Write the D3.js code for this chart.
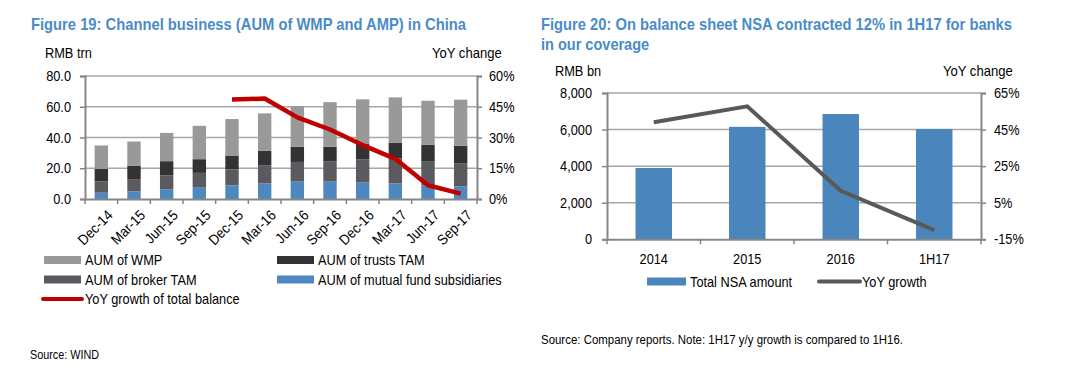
<!DOCTYPE html>
<html>
<head>
<meta charset="utf-8">
<script src="https://cdn.jsdelivr.net/npm/d3@7"></script>
<style>
  body { margin: 0; background: #fff; }
  svg text { font-family: "Liberation Sans", Arial, sans-serif; fill: #000; }
  .title { font-weight: bold; fill: #4a8cc7; font-size: 16.5px; }
</style>
</head>
<body>
<svg id="chart" width="1081" height="374"></svg>
<script>
// Figure 19 data (RMB trn, stacked pieces) and YoY growth (%)
const quarters = ['Dec-14','Mar-15','Jun-15','Sep-15','Dec-15','Mar-16','Jun-16','Sep-16','Dec-16','Mar-17','Jun-17','Sep-17'];
const mutualFund = [4.1, 5.0, 6.3, 7.4, 8.9, 10.2, 11.3, 11.3, 10.7, 10.2, 8.9, 8.3];
const brokerTam  = [7.4, 7.6, 9.1, 9.6, 10.4, 11.8, 12.8, 13.3, 15.2, 16.3, 15.4, 15.0];
const trustsTam  = [8.1, 8.9, 9.2, 8.9, 9.0, 9.3, 9.8, 9.3, 9.8, 10.2, 10.9, 11.3];
const wmp        = [15.2, 15.9, 18.4, 21.7, 23.7, 24.4, 26.5, 29.1, 29.1, 29.4, 28.7, 30.0];
const yoyTotal   = [null, null, null, null, 48.5, 49.0, 39.8, 33.9, 26.3, 19.6, 6.7, 2.6];
const leftTicks  = [0, 20, 40, 60, 80];
const rightTicks = [0, 15, 30, 45, 60];

// Figure 20 data (RMB bn) and YoY growth (%)
const periods = ['2014','2015','2016','1H17'];
const nsaAmount = [3900, 6150, 6850, 6030];
const nsaYoy = [49.0, 57.7, 11.5, -10.0];
const nsaTicks = [0, 2000, 4000, 6000, 8000];
const nsaYoyTicks = [-15, 5, 25, 45, 65];

const gridColor = '#a6a6a6', axisColor = '#868686';
const svg = d3.select('#chart');

// text in the reference is a bit condensed
function squeeze(sel, f) {
  sel.each(function() {
    const w = this.getComputedTextLength();
    d3.select(this).attr('textLength', w * f).attr('lengthAdjust', 'spacingAndGlyphs');
  });
}

function txt(x, y, s, size, anchor) {
  return svg.append('text').attr('x', x).attr('y', y)
    .attr('font-size', size).attr('text-anchor', anchor || 'start').text(s);
}

// ---------- Figure 19 ----------
const m1 = { left: 85, right: 477, top: 76, bottom: 199 };
const x1 = d3.scaleBand().domain(quarters).range([m1.left, m1.right]).paddingInner(0.59).paddingOuter(0.295);
const xb1 = d3.scaleBand().domain(quarters).range([m1.left, m1.right]);
const y1 = d3.scaleLinear().domain([0, 80]).range([m1.bottom, m1.top]);
const y1r = d3.scaleLinear().domain([0, 60]).range([m1.bottom, m1.top]);

svg.append('g').selectAll('line').data(leftTicks.slice(1)).enter().append('line')
  .attr('x1', m1.left).attr('x2', m1.right)
  .attr('y1', d => y1(d)).attr('y2', d => y1(d))
  .attr('stroke', gridColor).attr('stroke-width', 1.5);

const rows = quarters.map((q, i) => ({ q, mf: mutualFund[i], broker: brokerTam[i], trusts: trustsTam[i], wmp: wmp[i] }));
const keys = ['mf', 'broker', 'trusts', 'wmp'];
const colors = { mf: '#4f88c0', broker: '#5b5b5f', trusts: '#333333', wmp: '#999999' };
const stacked = d3.stack().keys(keys)(rows);

svg.append('g').selectAll('g').data(stacked).enter().append('g')
  .attr('fill', d => colors[d.key])
  .selectAll('rect').data(d => d).enter().append('rect')
    .attr('x', d => x1(d.data.q))
    .attr('width', x1.bandwidth())
    .attr('y', d => y1(d[1]))
    .attr('height', d => y1(d[0]) - y1(d[1]));

// axes
const ax1 = svg.append('g').attr('transform', 'translate(' + m1.left + ',0)')
  .call(d3.axisLeft(y1).tickValues(leftTicks).tickFormat(d3.format('.1f')).tickSize(5).tickPadding(9));
const ax1r = svg.append('g').attr('transform', 'translate(' + m1.right + ',0)')
  .call(d3.axisRight(y1r).tickValues(rightTicks).tickFormat(d => d + '%').tickSize(5).tickPadding(7));
const ax1b = svg.append('g').attr('transform', 'translate(0,' + m1.bottom + ')')
  .call(d3.axisBottom(xb1).tickSize(0).tickFormat(''));
svg.append('g').selectAll('line').data(d3.range(quarters.length + 1)).enter().append('line')
  .attr('x1', i => m1.left + i * xb1.step()).attr('x2', i => m1.left + i * xb1.step())
  .attr('y1', m1.bottom).attr('y2', m1.bottom + 5)
  .attr('stroke', axisColor).attr('stroke-width', 1.5);

[ax1, ax1r, ax1b].forEach(a => {
  a.select('.domain').attr('stroke', axisColor).attr('stroke-width', 2);
  a.selectAll('.tick line').attr('stroke', axisColor).attr('stroke-width', 1.5);
  a.selectAll('text').attr('font-size', 14.5).attr('fill', '#000')
    .attr('font-family', '"Liberation Sans", Arial, sans-serif').call(squeeze, 0.88);
});

svg.append('g').selectAll('text').data(quarters).enter().append('text')
  .attr('transform', d => 'translate(' + (xb1(d) + xb1.bandwidth() / 2 + 5) + ',' + (m1.bottom + 10) + ') rotate(-45)')
  .attr('text-anchor', 'end').attr('dy', '0.7em').attr('font-size', 14.5)
  .text(d => d).call(squeeze, 0.9);

// YoY line
const yoyPts = quarters.map((q, i) => ({ q, v: yoyTotal[i] })).filter(d => d.v !== null);
svg.append('path').datum(yoyPts)
  .attr('fill', 'none').attr('stroke', '#c00000').attr('stroke-width', 4.5)
  .attr('stroke-linejoin', 'round')
  .attr('d', d3.line().x(d => xb1(d.q) + xb1.bandwidth() / 2).y(d => y1r(d.v)));

txt(31, 30, 'Figure 19: Channel business (AUM of WMP and AMP) in China', 16.5).attr('class', 'title')
  .attr('textLength', 435).attr('lengthAdjust', 'spacingAndGlyphs');
txt(45, 58, 'RMB trn', 14.5).call(squeeze, 0.88);
txt(432, 58, 'YoY change', 14.5).call(squeeze, 0.9);

// legend 19
const leg1 = [
  { label: 'AUM of WMP', color: colors.wmp, x: 44, y: 260 },
  { label: 'AUM of trusts TAM', color: colors.trusts, x: 277, y: 260 },
  { label: 'AUM of broker TAM', color: colors.broker, x: 44, y: 279.5 },
  { label: 'AUM of mutual fund subsidiaries', color: colors.mf, x: 277, y: 279.5 }
];
leg1.forEach(d => {
  svg.append('rect').attr('x', d.x).attr('y', d.y - 4).attr('width', 37).attr('height', 8).attr('fill', d.color);
  txt(d.x + 41, d.y + 5, d.label, 14.5).call(squeeze, 0.88);
});
svg.append('line').attr('x1', 43).attr('x2', 82).attr('y1', 299).attr('y2', 299)
  .attr('stroke', '#c00000').attr('stroke-width', 4).attr('stroke-linecap', 'round');
txt(85, 304, 'YoY growth of total balance', 14.5).call(squeeze, 0.88);
txt(30, 359, 'Source: WIND', 12.5).attr('textLength', 69).attr('lengthAdjust', 'spacingAndGlyphs');

// ---------- Figure 20 ----------
const m2 = { left: 607, right: 981, top: 93, bottom: 239.3 };
const x2 = d3.scaleBand().domain(periods).range([m2.left, m2.right]).paddingInner(0.61).paddingOuter(0.305);
const xb2 = d3.scaleBand().domain(periods).range([m2.left, m2.right]);
const y2 = d3.scaleLinear().domain([0, 8000]).range([m2.bottom, m2.top]);
const y2r = d3.scaleLinear().domain([-15, 65]).range([m2.bottom, m2.top]);

svg.append('g').selectAll('line').data(nsaTicks.slice(1)).enter().append('line')
  .attr('x1', m2.left).attr('x2', m2.right)
  .attr('y1', d => y2(d)).attr('y2', d => y2(d))
  .attr('stroke', gridColor).attr('stroke-width', 1.5);

svg.append('g').selectAll('rect').data(periods).enter().append('rect')
  .attr('x', d => x2(d)).attr('width', x2.bandwidth())
  .attr('y', (d, i) => y2(nsaAmount[i]))
  .attr('height', (d, i) => y2(0) - y2(nsaAmount[i]))
  .attr('fill', '#4a86bc');

const ax2 = svg.append('g').attr('transform', 'translate(' + m2.left + ',0)')
  .call(d3.axisLeft(y2).tickValues(nsaTicks).tickFormat(d3.format(',')).tickSize(5).tickPadding(10));
const ax2r = svg.append('g').attr('transform', 'translate(' + m2.right + ',0)')
  .call(d3.axisRight(y2r).tickValues(nsaYoyTicks).tickFormat(d => d + '%').tickSize(5).tickPadding(8));
const ax2b = svg.append('g').attr('transform', 'translate(0,' + m2.bottom + ')')
  .call(d3.axisBottom(xb2).tickSize(0).tickPadding(14));
svg.append('g').selectAll('line').data(d3.range(periods.length + 1)).enter().append('line')
  .attr('x1', i => m2.left + i * xb2.step()).attr('x2', i => m2.left + i * xb2.step())
  .attr('y1', m2.bottom).attr('y2', m2.bottom + 5)
  .attr('stroke', axisColor).attr('stroke-width', 1.5);

[ax2, ax2r, ax2b].forEach(a => {
  a.select('.domain').attr('stroke', axisColor).attr('stroke-width', 2);
  a.selectAll('.tick line').attr('stroke', axisColor).attr('stroke-width', 1.5);
  a.selectAll('text').attr('font-size', 14.5).attr('fill', '#000')
    .attr('font-family', '"Liberation Sans", Arial, sans-serif').call(squeeze, 0.88);
});

svg.append('path').datum(periods)
  .attr('fill', 'none').attr('stroke', '#595959').attr('stroke-width', 4)
  .attr('d', d3.line().x(d => xb2(d) + xb2.bandwidth() / 2).y((d, i) => y2r(nsaYoy[i])));

txt(541, 30, 'Figure 20: On balance sheet NSA contracted 12% in 1H17 for banks', 16.5).attr('class', 'title')
  .attr('textLength', 471).attr('lengthAdjust', 'spacingAndGlyphs');
txt(541, 50, 'in our coverage', 16.5).attr('class', 'title').call(squeeze, 0.88);
txt(555, 76, 'RMB bn', 14.5).call(squeeze, 0.88);
txt(943, 76, 'YoY change', 14.5).call(squeeze, 0.9);

svg.append('rect').attr('x', 647).attr('y', 277.5).attr('width', 39).attr('height', 8).attr('fill', '#4a86bc');
txt(690, 287, 'Total NSA amount', 14.5).call(squeeze, 0.88);
svg.append('line').attr('x1', 819).attr('x2', 860).attr('y1', 281.5).attr('y2', 281.5)
  .attr('stroke', '#595959').attr('stroke-width', 4).attr('stroke-linecap', 'round');
txt(862, 287, 'YoY growth', 14.5).call(squeeze, 0.88);
txt(541, 344, 'Source: Company reports. Note: 1H17 y/y growth is compared to 1H16.', 12.5)
  .attr('textLength', 362).attr('lengthAdjust', 'spacingAndGlyphs');
</script>
</body>
</html>
